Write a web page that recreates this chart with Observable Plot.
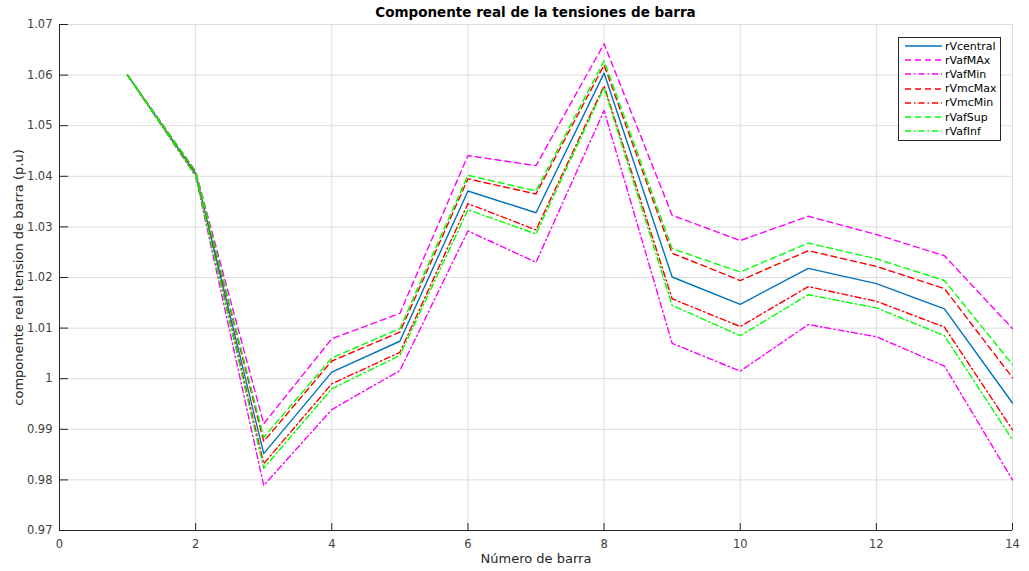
<!DOCTYPE html>
<html>
<head>
<meta charset="utf-8">
<script src="https://cdn.jsdelivr.net/npm/d3@7"></script>
<script src="https://cdn.jsdelivr.net/npm/@observablehq/plot@0.6"></script>
<style>
  html, body { margin: 0; padding: 0; background: #fff; }
  body { width: 1029px; height: 571px; position: relative; overflow: hidden; font-family: "DejaVu Sans", sans-serif; }
  #title { position: absolute; left: 59px; width: 953px; top: 4px; text-align: center; font-weight: bold; font-size: 13.5px; color: #000; }
  #legend { position: absolute; left: 898px; top: 37px; width: 103px; height: 104px; border: 1px solid #262626; background: #fff; box-sizing: border-box; }
  #legend .row { position: absolute; left: 0; height: 14px; display: flex; align-items: center; font-size: 11px; color: #000; }
  #legend svg { margin-left: 6px; margin-right: 3px; }
</style>
</head>
<body>
<div id="chart"></div>
<div id="title">Componente real de la tensiones de barra</div>
<div id="legend"></div>
<script>
const barras = [1, 2, 3, 4, 5, 6, 7, 8, 9, 10, 11, 12, 13, 14];
const rVcentral = [1.060, 1.0405, 0.9852, 1.0013, 1.0074, 1.0371, 1.0328, 1.0604, 1.0201, 1.0147, 1.0218, 1.0188, 1.0138, 0.9952];
const rVafMAx   = [1.060, 1.0410, 0.9911, 1.0079, 1.0129, 1.0441, 1.0421, 1.0662, 1.0323, 1.0273, 1.0321, 1.0285, 1.0243, 1.0099];
const rVafMin   = [1.060, 1.0400, 0.9789, 0.9939, 1.0016, 1.0292, 1.0230, 1.0530, 1.0070, 1.0015, 1.0107, 1.0083, 1.0025, 0.9800];
const rVmcMax   = [1.060, 1.0408, 0.9876, 1.0035, 1.0092, 1.0395, 1.0365, 1.0620, 1.0248, 1.0194, 1.0253, 1.0222, 1.0178, 1.0002];
const rVmcMin   = [1.060, 1.0402, 0.9832, 0.9990, 1.0052, 1.0346, 1.0294, 1.0579, 1.0158, 1.0103, 1.0182, 1.0153, 1.0102, 0.9899];
const rVafSup   = [1.060, 1.0409, 0.9884, 1.0041, 1.0099, 1.0402, 1.0371, 1.0628, 1.0257, 1.0211, 1.0268, 1.0237, 1.0194, 1.0028];
const rVafInf   = [1.060, 1.0401, 0.9823, 0.9980, 1.0046, 1.0334, 1.0286, 1.0575, 1.0145, 1.0085, 1.0166, 1.0140, 1.0085, 0.9879];

const xTicks = [0, 2, 4, 6, 8, 10, 12, 14];
const yTicks = [0.97, 0.98, 0.99, 1.00, 1.01, 1.02, 1.03, 1.04, 1.05, 1.06, 1.07];

const seriesNames = ["rVcentral", "rVafMAx", "rVafMin", "rVmcMax", "rVmcMin", "rVafSup", "rVafInf"];
const seriesValues = [rVcentral, rVafMAx, rVafMin, rVmcMax, rVmcMin, rVafSup, rVafInf];
const seriesColors = ["#0072BD", "#FF00FF", "#FF00FF", "#FF0000", "#FF0000", "#00FF00", "#00FF00"];
const seriesDash = [null, "6,4", "6,3,1.5,3", "6,4", "6,3,1.5,3", "6,4", "6,3,1.5,3"];

const lineMarks = seriesNames.map((name, i) => {
  const data = barras.map((b, j) => ({barra: b, v: seriesValues[i][j]}));
  return Plot.line(data, {x: "barra", y: "v", stroke: seriesColors[i], strokeWidth: 1.4, strokeDasharray: seriesDash[i] ?? undefined});
});

const fmt = d => String(+d.toFixed(2));

const chart = Plot.plot({
  width: 1029,
  height: 571,
  marginLeft: 59,
  marginRight: 17,
  marginTop: 24,
  marginBottom: 41,
  style: {fontFamily: "DejaVu Sans, sans-serif", fontSize: "11px", color: "#262626", background: "#fff"},
  x: {domain: [0, 14]},
  y: {domain: [0.97, 1.07]},
  marks: [
    Plot.gridX(xTicks, {stroke: "#dcdcdc", strokeOpacity: 1}),
    Plot.gridY(yTicks, {stroke: "#dcdcdc", strokeOpacity: 1}),
    ...lineMarks,
    Plot.ruleX([0], {stroke: "#262626", strokeWidth: 1}),
    Plot.ruleY([0.97], {stroke: "#262626", strokeWidth: 1}),
    Plot.axisX(xTicks, {tickSize: -7, tickPadding: 16, tickFormat: fmt, fill: "#404040", stroke: "#262626", label: null, fontSize: 11.5}),
    Plot.axisY(yTicks, {tickSize: -9, tickPadding: 16, tickFormat: fmt, fill: "#404040", stroke: "#262626", label: null, fontSize: 11.5}),
    Plot.text(["Número de barra"], {frameAnchor: "bottom", dy: 32, fontSize: 13, fill: "#262626"}),
    Plot.text(["componente real tension de barra (p.u)"], {frameAnchor: "left", textAnchor: "middle", dx: -41, rotate: -90, fontSize: 13, fill: "#262626"})
  ]
});
document.getElementById("chart").appendChild(chart);

const legend = document.getElementById("legend");
seriesNames.forEach((name, i) => {
  const row = document.createElement("div");
  row.className = "row";
  row.style.top = (1 + i * 14.2) + "px";
  const dash = seriesDash[i] ? ` stroke-dasharray="${seriesDash[i]}"` : "";
  row.innerHTML = `<svg width="37" height="4"><line x1="0" y1="2" x2="37" y2="2" stroke="${seriesColors[i]}" stroke-width="1.4"${dash}/></svg><span>${name}</span>`;
  legend.appendChild(row);
});
</script>
</body>
</html>
